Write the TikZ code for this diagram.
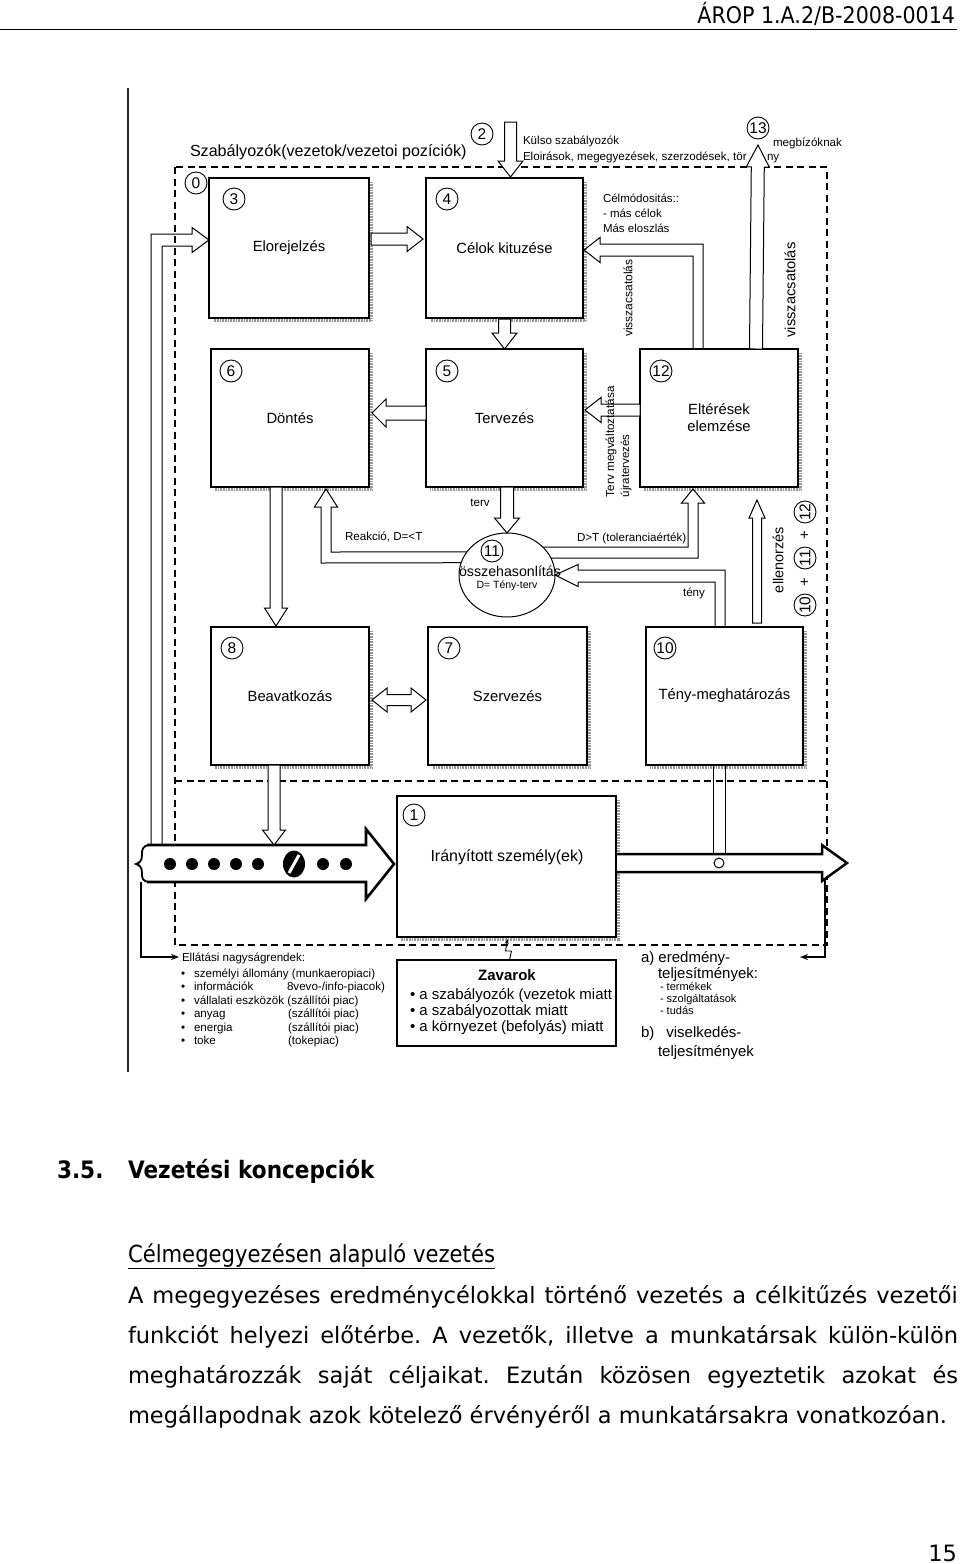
\documentclass[tikz,border=0pt]{standalone}
\usepackage{fontspec}
\setmainfont{Liberation Sans}
\newfontfamily\dvs{DejaVu Sans}
\newfontfamily\dvsn[FakeStretch=0.9]{DejaVu Sans}
\usetikzlibrary{calc,shapes.geometric,arrows.meta}
\newcommand\fsz[1]{\fontsize{#1}{#1}\selectfont}
\frenchspacing
\tikzset{
  every node/.style={inner sep=0pt, outer sep=0pt},
  box/.style={draw, line width=1.1pt, align=center, font=\fsz{14.8}},
  num/.style={circle, draw, line width=0.9pt, minimum size=22pt, font=\fsz{15.5}},
  small/.style={font=\fsz{11.6}},
  dashframe/.style={line width=1.5pt, dash pattern=on 7pt off 4.5pt},
  bshadow/.style={draw=black!40, line width=2.6pt, dash pattern=on 0.7pt off 0.9pt},
  arr/.style={draw, line width=1pt, fill=white, line join=miter},
  oarr/.style={draw, line width=1pt, line join=miter},
  larrow/.style={line width=1.3pt, -{Stealth[length=8pt,width=6pt]}},
  blk/.style n args={3}{to path={let \p1=(\tikztostart), \p2=(\tikztotarget), \p3=($(\p2)!#3!(\p1)$) in
    ($(\p1)!#1!90:(\p2)$) -- ($(\p3)!#1!-90:(\p1)$) -- ($(\p3)!#2!-90:(\p1)$) -- (\p2) -- ($(\p3)!#2!90:(\p1)$) -- ($(\p3)!#1!90:(\p1)$) -- ($(\p1)!#1!-90:(\p2)$) -- cycle}},
  blkstd/.style={blk={6pt}{12.5pt}{16pt}},
  dblk/.style={to path={let \p1=(\tikztostart), \p2=(\tikztotarget), \p3=($(\p1)!15pt!(\p2)$), \p4=($(\p2)!15pt!(\p1)$) in
    (\p1) -- ($(\p3)!12pt!90:(\p2)$) -- ($(\p3)!5.5pt!90:(\p2)$) -- ($(\p4)!5.5pt!-90:(\p1)$) -- ($(\p4)!12pt!-90:(\p1)$) -- (\p2) -- ($(\p4)!12pt!90:(\p1)$) -- ($(\p4)!5.5pt!90:(\p1)$) -- ($(\p3)!5.5pt!-90:(\p2)$) -- ($(\p3)!12pt!-90:(\p2)$) -- cycle}},
  lt/.style={anchor=base west},
}
\newcommand\bsh[1]{\draw[bshadow] ($(#1.north east)+(2.6,4)$) -- ($(#1.south east)+(2.6,2.6)$) -- ($(#1.south west)+(4,2.6)$);}
\begin{document}
\begin{tikzpicture}[x=1pt,y=-1pt]
\fill[white] (0,0) rectangle (960,1564);
\useasboundingbox (0,0) rectangle (960,1564);

% header
\node[anchor=base east, font=\dvsn\fsz{22.9}] (hdr) at (955,23) {ÁROP 1.A.2/B-2008-0014};
\draw[line width=1.3pt] (0,29.5) -- (957,29.5);

% scan border
\draw[line width=1.3pt, black!85] (128,88) -- (128,1072);

% dashed frames
\draw[dashframe] (175,167) rectangle (827,945);
\draw[dashframe] (175,781) -- (827,781);

% boxes
\node[box, minimum width=160pt, minimum height=140pt] (b3) at (289,248) {Elorejelzés};
\node[box, minimum width=157pt, minimum height=140pt] (b4) at (504.5,248) {Célok kituzése};
\node[box, minimum width=158pt, minimum height=138pt] (b6) at (290,418) {Döntés};
\node[box, minimum width=157pt, minimum height=138pt] (b5) at (504.5,418) {Tervezés};
\node[box, minimum width=158pt, minimum height=138pt, font=\fontsize{14.8}{17}\selectfont] (b12) at (719,418) {Eltérések\\elemzése};
\node[box, minimum width=158pt, minimum height=138pt] (b8) at (290,696) {Beavatkozás};
\node[box, minimum width=159pt, minimum height=138pt] (b7) at (507.5,696) {Szervezés};
\node[box, minimum width=157pt, minimum height=138pt] (b10) at (724.5,696) {Tény-meghatározás};
\node[box, line width=2.3pt, minimum width=219pt, minimum height=141pt] (b1) at (506.5,866.5) {};
\node[draw, line width=1.1pt, minimum width=219pt, minimum height=86pt] (zb) at (506.5,1003) {};
\node[ellipse, draw, line width=1pt, minimum width=96pt, minimum height=84pt] (e11) at (507,575) {};

\bsh{b3}\bsh{b4}\bsh{b6}\bsh{b5}\bsh{b12}\bsh{b8}\bsh{b7}\bsh{b10}\bsh{b1}

% number circles
\node[num] (n0) at (196,183) {0};
\node[num] (n2) at (482,134) {2};
\node[num] (n13) at (758,128) {13};
\node[num] (n3) at ($(b3.north west)+(25,21)$) {3};
\node[num] (n4) at ($(b4.north west)+(21,21)$) {4};
\node[num] (n6) at ($(b6.north west)+(20,22)$) {6};
\node[num] (n5) at ($(b5.north west)+(21,22)$) {5};
\node[num] (n12) at ($(b12.north west)+(21,22)$) {12};
\node[num] (n8) at ($(b8.north west)+(21,21)$) {8};
\node[num] (n7) at ($(b7.north west)+(21,21)$) {7};
\node[num] (n10) at ($(b10.north west)+(19,21)$) {10};
\node[num] (n1) at ($(b1.north west)+(17,19)$) {1};
\node[num] (n11) at (492,551) {11};

% straight block arrows
\coordinate (a2s) at ($(b4.north)+(6,-56)$);
\coordinate (a2e) at ($(b4.north)+(6,-1)$);
\draw[arr] (a2s) to[blkstd] (a2e);
\coordinate (a13s) at ($(b12.north)+(37,0)$);
\coordinate (a13e) at ($(n13.south)+(0,6)$);
\draw[arr] (a13s) to[blk={6.5pt}{11.5pt}{22pt}] (a13e);
\coordinate (a34s) at ($(b3.east)+(2,-9)$);
\coordinate (a34e) at ($(b4.west)+(-3,-9)$);
\draw[arr] (a34s) to[blkstd] (a34e);
\coordinate (a45s) at ($(b4.south)+(0,1)$);
\coordinate (a45e) at (b5.north);
\draw[arr] (a45s) to[blkstd] (a45e);
\coordinate (a56s) at ($(b5.west)+(0,-5)$);
\coordinate (a56e) at ($(b6.east)+(3,-5)$);
\draw[arr] (a56s) to[blk={7pt}{14pt}{14pt}] (a56e);
\coordinate (a125s) at ($(b12.west)+(0,-8)$);
\coordinate (a125e) at ($(b5.east)+(2,-8)$);
\draw[arr] (a125s) to[blkstd] (a125e);
\coordinate (a511s) at ($(b5.south)+(2.5,0)$);
\coordinate (a511e) at (e11.north);
\draw[arr] (a511s) to[blk={6.5pt}{12.5pt}{15pt}] (a511e);
\coordinate (a68s) at ($(b6.south)+(-14,0)$);
\coordinate (a68e) at ($(b8.north)+(-14,-1)$);
\draw[arr] (a68s) to[blk={6pt}{11.5pt}{18pt}] (a68e);
\coordinate (aels) at ($(b10.north)+(32.5,-4)$);
\coordinate (aele) at ($(b12.south)+(38,13)$);
\draw[arr] (aels) to[blk={4.5pt}{8pt}{18pt}] (aele);
\coordinate (a87s) at ($(b8.east)+(3,4)$);
\coordinate (a87e) at ($(b7.west)+(-2,4)$);
\draw[arr] (a87s) to[dblk] (a87e);

% bent arrows
\coordinate (bin) at ($(b3.west)+(0,-8)$);
\draw[oarr] (151,845) -- (151,234) -- (192,234) -- (192,227.5) -- (bin) -- (192,252.5) -- (192,246) -- (162,246) -- (162,845);
\coordinate (fbt) at ($(b4.east)+(1,2)$);
\draw[oarr] ($(b12.north)+(-26,0)$) -- (693,256) -- (600,256) -- (600,262.5) -- (fbt) -- (600,237.5) -- (600,244) -- (703,244) -- ($(b12.north)+(-16,0)$);
\coordinate (rkt) at ($(b6.south)+(36,2)$);
\draw[oarr] (e11.150) -- (331,552) -- (331,507) -- (337.5,507) -- (rkt) -- (314.5,507) -- (321,507) -- (321,563) -- (e11.165);
\coordinate (dtt) at ($(b12.south)+(-26,2)$);
\draw[oarr] (e11.38) -- (688,547) -- (688,503) -- (681.5,503) -- (dtt) -- (704.5,503) -- (698,503) -- (698,558) -- (e11.21);
\draw[oarr] ($(b10.north)+(-9.5,0)$) -- (715,582) -- (578,582) -- (578,586.5) -- (e11.east) -- (578,564.5) -- (578,570) -- (725,570) -- ($(b10.north)+(0.5,0)$);

% big input arrow
\filldraw[fill=white, line width=2.6pt, line join=miter] (147,845) -- (366,845) -- (366,829) -- (394,864) -- (366,899) -- (366,882) -- (147,882);
\draw[line width=1.8pt] (149,845) .. controls (142,846) and (142,850) .. (142,855) .. controls (142,860) and (140,863) .. (136,864) .. controls (140,865) and (142,868) .. (142,873) .. controls (142,878) and (142,881) .. (149,882);
\foreach \xx in {170,192,214,236,258,323,346} \fill (\xx,864) circle (6);
\fill (294,864) ellipse (11 and 13.5);
\draw[white, line width=3pt] (289,873) -- (299,855);
\coordinate (a8e) at (274,845);
\draw[arr] ($(b8.south)+(-16,0)$) coordinate (a8s) to[blk={6pt}{11.5pt}{15pt}] (a8e);

% output arrow
\filldraw[fill=white, line width=2.5pt, line join=miter] (617,854) -- (822,854) -- (822,845) -- (847,863) -- (822,881) -- (822,872) -- (617,872);
\node[circle, draw, line width=1pt, minimum size=10pt] (oc) at (719,863) {};
\draw[line width=1pt] ($(b10.south)+(-11.5,0)$) -- (713,854);
\draw[line width=1pt] ($(b10.south)+(0.5,0)$) -- (725,854);

% return lines
\coordinate (ell) at (179,957);
\draw[larrow] (141,882) -- (141,957) -- (ell);
\coordinate (err) at (800,957);
\draw[larrow] (825,879) -- (825,957) -- (err);

% lightning
\draw[line width=0.9pt, -{Stealth[length=5pt,width=4pt]}] ($(zb.north)+(3,0)$) -- ++(2,-9) -- ++(-6,0) -- ++(2,-12);

% texts
\node[anchor=west, font=\fsz{16.1}] (title) at (190,152) {Szabályozók(vezetok/vezetoi pozíciók)};
\node[lt, small] (ks1) at (523,144) {Külso szabályozók};
\node[lt, small] (ks2) at (523,160) {Eloirások, megegyezések, szerzodések, tör};
\node[lt, small] (ks3) at (767,160) {ny};
\node[lt, small] (mb) at (773,146) {megbízóknak};
\node[lt, font=\fsz{11.5}] (cm1) at (603,202) {Célmódositás::};
\node[lt, font=\fsz{11.5}] (cm2) at (603,217) {- más célok};
\node[lt, font=\fsz{11.5}] (cm3) at (603,232) {Más eloszlás};
\node[rotate=90, font=\fsz{12}] (vs1) at (628,298) {visszacsatolás};
\node[rotate=90, font=\fsz{14.7}] (vs2) at (790,290) {visszacsatolás};
\node[rotate=90, anchor=west, font=\fsz{11.7}] (tm1) at (611,497) {Terv megváltoztatása};
\node[rotate=90, anchor=west, font=\fsz{11.5}] (tm2) at (626,497) {újratervezés};
\node[small] (tv) at (480,503) {terv};
\node[lt, small] (rk) at (345,540) {Reakció, D=<T};
\node[lt, small] (dt) at (577,541) {D>T (toleranciaérték)};
\node[small] (ty) at (694,593) {tény};
\node[font=\fsz{14.2}] (t11a) at (510,571) {összehasonlítás};
\node[font=\fsz{10.5}] (t11b) at (507,586) {D= Tény-terv};
\node[rotate=90, font=\fsz{14.5}] (ell2) at (778,560) {ellenorzés};
\node[num, rotate=90] (r10) at (805,605) {10};
\node[rotate=90, font=\fsz{15}] (rp1) at (805,582) {+};
\node[num, rotate=90] (r11) at (805,558) {11};
\node[rotate=90, font=\fsz{15}] (rp2) at (805,535) {+};
\node[num, rotate=90] (r12) at (805,512) {12};
\node[font=\fsz{16}] (t1) at (507,857) {Irányított személy(ek)};

% bottom left list
\node[lt, font=\fsz{11.6}] (el0) at (182,961) {Ellátási nagyságrendek:};
\foreach \yy in {977,990.5,1004,1017.5,1031,1044.5} \node[lt, font=\fsz{11.6}] at (181,\yy) {•};
\node[lt, font=\fsz{11.6}] (el1) at (194,977) {személyi állomány (munkaeropiaci)};
\node[lt, font=\fsz{11.6}] (el2) at (194,990.5) {információk};
\node[lt, font=\fsz{11.6}] (el2b) at (287,990.5) {8vevo-/info-piacok)};
\node[lt, font=\fsz{11.6}] (el3) at (194,1004) {vállalati eszközök (szállítói piac)};
\node[lt, font=\fsz{11.6}] (el4) at (194,1017.5) {anyag};
\node[lt, font=\fsz{11.6}] (el4b) at (288,1017.5) {(szállítói piac)};
\node[lt, font=\fsz{11.6}] (el5) at (194,1031) {energia};
\node[lt, font=\fsz{11.6}] (el5b) at (288,1031) {(szállítói piac)};
\node[lt, font=\fsz{11.6}] (el6) at (194,1044.5) {toke};
\node[lt, font=\fsz{11.6}] (el6b) at (288,1044.5) {(tokepiac)};

% Zavarok
\node[font=\bfseries\fsz{15}] (zv) at (507,975) {Zavarok};
\node[lt, font=\fsz{15}] (zv1) at (410,999) {• a szabályozók (vezetok miatt};
\node[lt, font=\fsz{15}] (zv2) at (410,1015) {• a szabályozottak miatt};
\node[lt, font=\fsz{15}] (zv3) at (410,1031) {• a környezet (befolyás) miatt};

% right list
\node[lt, font=\fsz{15}] (ra1) at (641,962) {a) eredmény-};
\node[lt, font=\fsz{15}] (ra2) at (658,978) {teljesítmények:};
\node[lt, font=\fsz{11}] (ra3) at (660,990) {- termékek};
\node[lt, font=\fsz{11}] (ra4) at (660,1002) {- szolgáltatások};
\node[lt, font=\fsz{11}] (ra5) at (660,1014) {- tudás};
\node[lt, font=\fsz{15}] (rb1) at (641,1037) {b)\hspace{12pt}viselkedés-};
\node[lt, font=\fsz{15}] (rb2) at (658,1056) {teljesítmények};

% page text
\node[anchor=base west, font=\dvsn\bfseries\fsz{24}] (h1) at (57,1178) {3.5.};
\node[anchor=base west, font=\dvsn\bfseries\fsz{24}] (h2) at (128,1178) {Vezetési koncepciók};
\node[anchor=base west, font=\dvsn\fsz{23.5}] (sh) at (128,1262) {\underline{Célmegegyezésen alapuló vezetés}};
\node[anchor=base west, font=\dvs\fsz{22.5}] (p1) at (128,1303) {\makebox[830pt][s]{A megegyezéses eredménycélokkal történő vezetés a célkitűzés vezetői}};
\node[anchor=base west, font=\dvs\fsz{22.5}] (p2) at (128,1343) {\makebox[830pt][s]{funkciót helyezi előtérbe. A vezetők, illetve a munkatársak külön-külön}};
\node[anchor=base west, font=\dvs\fsz{22.5}] (p3) at (128,1383) {\makebox[830pt][s]{meghatározzák saját céljaikat. Ezután közösen egyeztetik azokat és}};
\node[anchor=base west, font=\dvs\fsz{22.5}] (p4) at (128,1423) {megállapodnak azok kötelező érvényéről a munkatársakra vonatkozóan.};
\node[anchor=base east, font=\dvs\fsz{22.5}] (pg) at (957,1561) {15};
\end{tikzpicture}
\end{document}
